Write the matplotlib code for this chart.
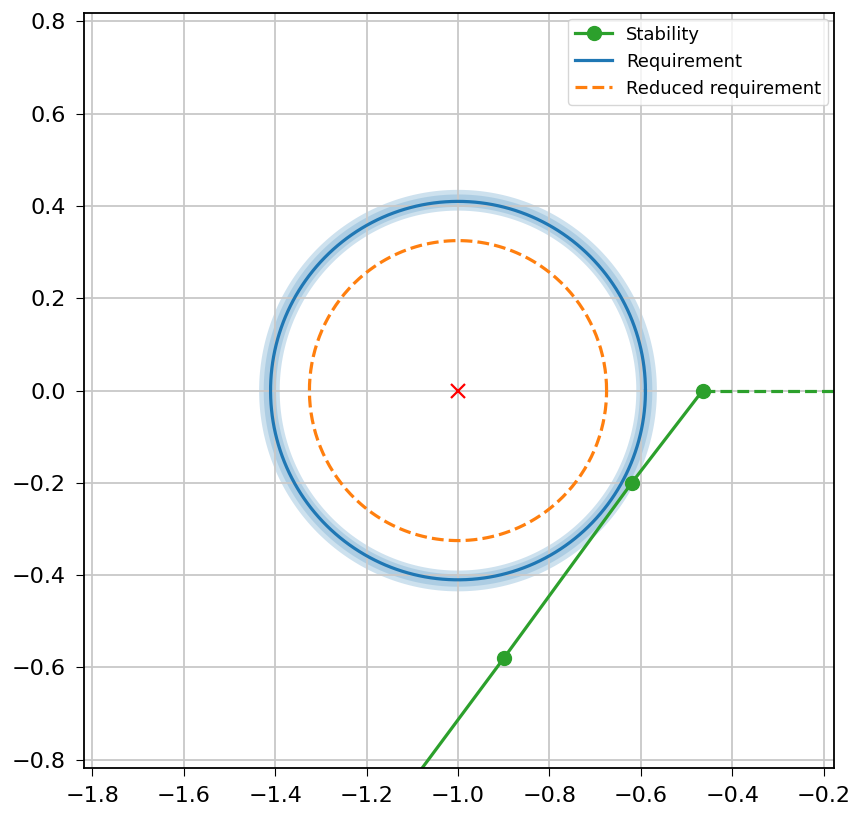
import numpy as np
import matplotlib
matplotlib.use("Agg")
import matplotlib.pyplot as plt

# data
center = (-1.0, 0.0)
req_radius = 0.41
band_outer = [0.435, 0.425]
band_inner = [0.39, 0.398]
reduced_radius = 0.325
stab_x = [-1.23, -0.9, -0.62, -0.465]
stab_y = [-1.02, -0.58, -0.20, 0.0]
stab_marker_x = [-0.9, -0.62, -0.465]
stab_marker_y = [-0.58, -0.20, 0.0]
tail_x = [-0.465, 0.0]
tail_y = [0.0, 0.0]

fig = plt.figure(figsize=(8.53, 8.18), dpi=100)
ax = fig.add_axes([0.0985, 0.061, 0.879, 0.923])

t = np.linspace(0, 2 * np.pi, 400)
cx, cy = center
# uncertainty band (overlapping translucent rings)
for ro, ri, a in zip(band_outer, band_inner, [0.22, 0.18]):
    ax.fill(np.concatenate([cx + ro * np.cos(t), cx + ri * np.cos(t[::-1])]),
            np.concatenate([cy + ro * np.sin(t), cy + ri * np.sin(t[::-1])]),
            color="#1f77b4", alpha=a, lw=0)

lw = 2.3
ax.plot(stab_x, stab_y, color="#2ca02c", lw=lw)
ax.plot(stab_marker_x, stab_marker_y, "o", color="#2ca02c", ms=10)
ax.plot([], [], "-o", color="#2ca02c", lw=lw, ms=10, label="Stability")
ax.plot(tail_x, tail_y, "--", color="#2ca02c", lw=lw)
ax.plot(cx + req_radius * np.cos(t), cy + req_radius * np.sin(t), color="#1f77b4", lw=lw, label="Requirement")
ax.plot(cx + reduced_radius * np.cos(t), cy + reduced_radius * np.sin(t), "--", color="#ff7f0e", lw=lw,
        label="Reduced requirement")
ax.plot([cx], [cy], "x", color="red", ms=10, mew=1.6)

ax.set_xlim(-1.818, -0.178)
ax.set_ylim(-0.818, 0.818)
ax.set_xticks(np.arange(-1.8, -0.19, 0.2))
ax.set_yticks(np.arange(-0.8, 0.81, 0.2))
ax.tick_params(labelsize=16, length=6, pad=7)
ax.grid(True, color="#c8c8c8", lw=1.3)
for s in ax.spines.values():
    s.set_linewidth(1.3)
ax.legend(loc="upper right", fontsize=13, borderaxespad=0.3)

fig.savefig("out.png", dpi=100)
